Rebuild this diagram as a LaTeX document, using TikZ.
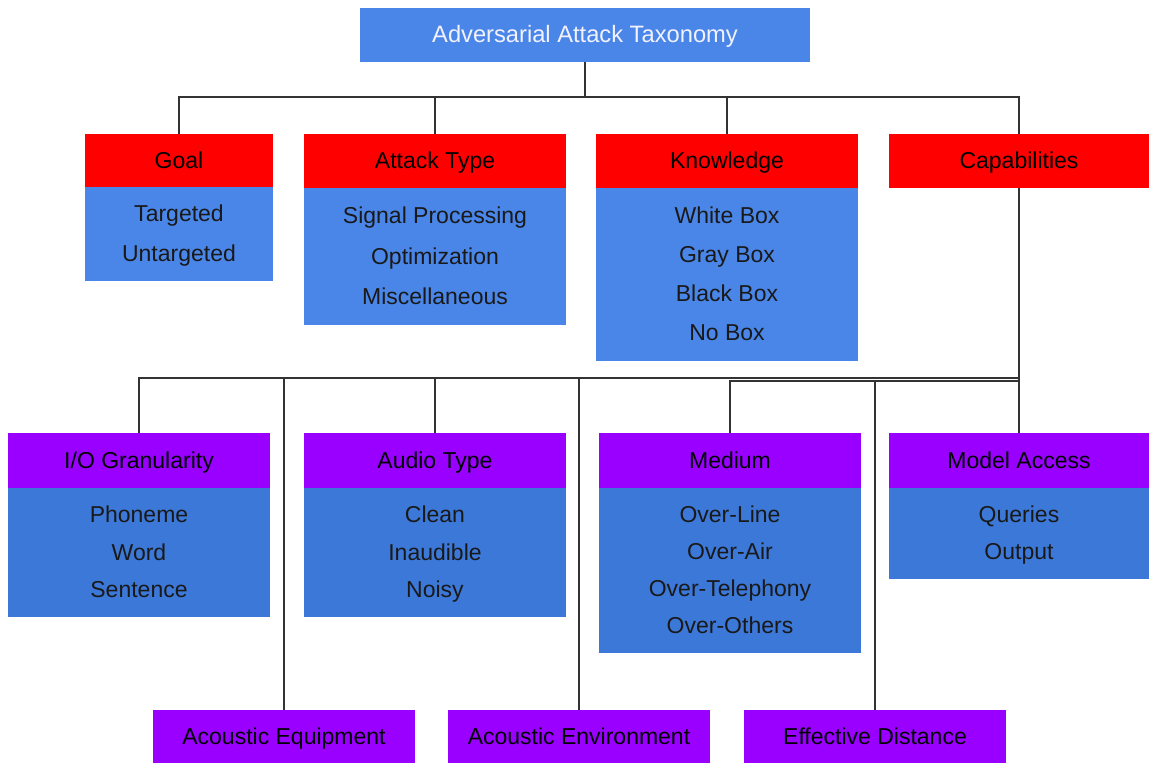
\documentclass[tikz,border=0pt]{standalone}
\usepackage{fontspec}
\setmainfont{Liberation Sans}
\definecolor{topblue}{HTML}{4A86E8}
\definecolor{subblue}{HTML}{3C78D8}
\definecolor{hdrred}{HTML}{FF0000}
\definecolor{hdrpurple}{HTML}{9900FF}
\definecolor{linegray}{HTML}{333333}
\newcommand\tstr{\rule[-6pt]{0pt}{27pt}}
\begin{document}
\begin{tikzpicture}[x=1pt,y=-1pt,
  box/.style={rectangle,inner sep=0pt,outer sep=0pt,align=center,text=black},
  redhdr/.style={box,fill=hdrred,font=\fontsize{23}{28}\selectfont},
  purphdr/.style={box,fill=hdrpurple,font=\fontsize{23}{28}\selectfont},
  topbody/.style={box,fill=topblue,text=black!90,font=\fontsize{23}{40.5}\selectfont},
  subbody/.style={box,fill=subblue,text=black!90,font=\fontsize{23}{37.5}\selectfont},
  conn/.style={draw=linegray,line width=1.2pt}]
\useasboundingbox (0,0) rectangle (1149,763);
% root
\node[box,fill=topblue,text=white!95!blue,font=\fontsize{23.7}{28}\selectfont,minimum width=450,minimum height=54] (root) at (585,35) {\tstr Adversarial Attack Taxonomy};
% level 1
\node[redhdr,minimum width=188,minimum height=53] (goal) at (179,160.5) {\tstr Goal};
\node[topbody,minimum width=188,minimum height=94,anchor=north] (goalb) at (goal.south) {\tstr Targeted\\\tstr Untargeted};
\node[redhdr,minimum width=262,minimum height=54] (atk) at (435,161) {\tstr Attack Type};
\node[topbody,minimum width=262,minimum height=137,anchor=north] (atkb) at (atk.south) {\tstr Signal Processing\\\tstr Optimization\\\tstr Miscellaneous};
\node[redhdr,minimum width=262,minimum height=54] (know) at (727,161) {\tstr Knowledge};
\node[topbody,minimum width=262,minimum height=173,anchor=north,font=\fontsize{23}{39.3}\selectfont] (knowb) at (know.south) {\tstr White Box\\\tstr Gray Box\\\tstr Black Box\\\tstr No Box};
\node[redhdr,minimum width=260,minimum height=54] (cap) at (1019,161) {\tstr Capabilities};
% level 2
\node[purphdr,minimum width=262,minimum height=55] (io) at (139,460.5) {\tstr I/O Granularity};
\node[subbody,minimum width=262,minimum height=129,anchor=north] (iob) at (io.south) {\tstr Phoneme\\\tstr Word\\\tstr Sentence};
\node[purphdr,minimum width=262,minimum height=55] (aud) at (435,460.5) {\tstr Audio Type};
\node[subbody,minimum width=262,minimum height=129,anchor=north] (audb) at (aud.south) {\tstr Clean\\\tstr Inaudible\\\tstr Noisy};
\node[purphdr,minimum width=262,minimum height=55] (med) at (730,460.5) {\tstr Medium};
\node[subbody,minimum width=262,minimum height=165,anchor=north,font=\fontsize{23}{37}\selectfont] (medb) at (med.south) {\tstr Over-Line\\\tstr Over-Air\\\tstr Over-Telephony\\\tstr Over-Others};
\node[purphdr,minimum width=260,minimum height=55] (ma) at (1019,460.5) {\tstr Model Access};
\node[subbody,minimum width=260,minimum height=91,anchor=north] (mab) at (ma.south) {\tstr Queries\\\tstr Output};
% level 3
\node[purphdr,minimum width=262,minimum height=53] (aeq) at (284,736.5) {\tstr Acoustic Equipment};
\node[purphdr,minimum width=262,minimum height=53] (aenv) at (579,736.5) {\tstr Acoustic Environment};
\node[purphdr,minimum width=262,minimum height=53] (edist) at (875,736.5) {\tstr Effective Distance};
% connectors
\coordinate (b1) at (585,97);
\coordinate (c2) at (1019,378);
\coordinate (c3) at (1019,381);
\draw[conn] (root.south) -- (b1);
\draw[conn] (goal.north) |- (b1) -| (cap.north);
\draw[conn] (atk.north) -- (atk.north |- b1);
\draw[conn] (know.north) -- (know.north |- b1);
\draw[conn] (cap.south) -- (c2) -| (io.north);
\draw[conn] (aud.north) -- (aud.north |- c2);
\draw[conn] (aeq.north) -- (aeq.north |- c2);
\draw[conn] (aenv.north) -- (aenv.north |- c2);
\draw[conn] (ma.north) -- (c2);
\draw[conn] (c3) -| (med.north);
\draw[conn] (edist.north) -- (edist.north |- c3);
\end{tikzpicture}
\end{document}
